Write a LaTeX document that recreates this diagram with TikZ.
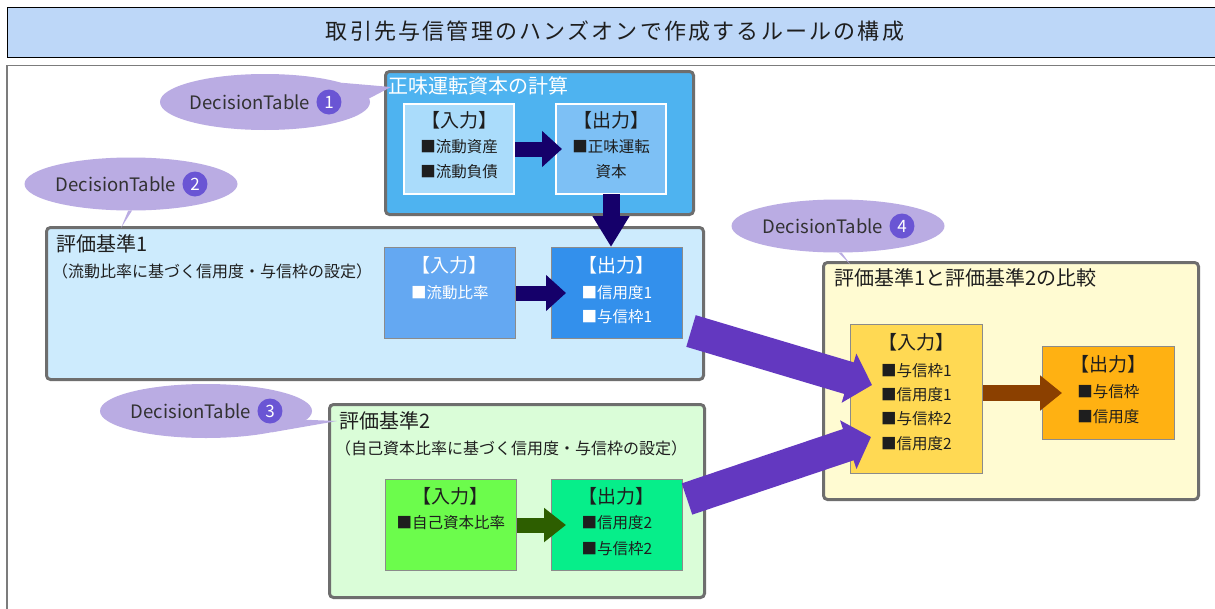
\documentclass[tikz,border=0pt]{standalone}
\usepackage{fontspec}
\setmainfont{Noto Sans CJK JP}
\usetikzlibrary{shapes.geometric,arrows.meta,calc}
\definecolor{titlebg}{RGB}{189,215,248}
\definecolor{frameg}{RGB}{110,110,110}
\definecolor{bonefill}{RGB}{78,179,240}
\definecolor{inonefill}{RGB}{170,220,251}
\definecolor{outonefill}{RGB}{125,192,245}
\definecolor{btwofill}{RGB}{205,235,253}
\definecolor{intwofill}{RGB}{100,168,242}
\definecolor{outtwofill}{RGB}{51,144,236}
\definecolor{bthreefill}{RGB}{218,253,216}
\definecolor{inthreefill}{RGB}{108,252,76}
\definecolor{outthreefill}{RGB}{6,238,138}
\definecolor{bfourfill}{RGB}{255,251,210}
\definecolor{infourfill}{RGB}{255,217,83}
\definecolor{outfourfill}{RGB}{255,177,18}
\definecolor{callfill}{RGB}{186,172,227}
\definecolor{numfill}{RGB}{106,85,212}
\definecolor{navyar}{RGB}{21,0,106}
\definecolor{purplear}{RGB}{99,56,192}
\definecolor{brownar}{RGB}{139,64,0}
\definecolor{greenar}{RGB}{45,94,0}
\definecolor{txt}{RGB}{30,30,30}
\definecolor{calltxt}{RGB}{50,50,50}
\begin{document}
\begin{tikzpicture}[x=1pt,y=-1pt,
  outerbox/.style={draw=frameg, line width=3pt, rounded corners=4pt, rectangle, inner sep=0pt, anchor=north west},
  wbox/.style={draw=white, line width=2pt, rectangle, inner sep=0pt, anchor=north west},
  gbox/.style={draw=frameg!80, line width=0.9pt, rectangle, inner sep=0pt, anchor=north west},
  hdtext/.style={font=\fontsize{19}{22}\selectfont, text=txt, inner sep=0pt},
  itemtext/.style={font=\fontsize{15.5}{18}\selectfont, text=txt, inner sep=0pt},
  boxtitle/.style={font=\fontsize{20}{24}\selectfont, text=txt, inner sep=0pt, anchor=west},
  subtitle/.style={font=\fontsize{16}{19}\selectfont, text=txt, inner sep=0pt, anchor=west},
  callout/.style={ellipse, fill=callfill, inner sep=0pt},
  calltext/.style={font=\fontsize{18.5}{21}\selectfont, text=calltxt, inner sep=0pt},
  numcirc/.style={circle, fill=numfill, text=white, inner sep=0pt, minimum size=25pt, font=\fontsize{17}{20}\selectfont},
  fatnavy/.style={draw=navyar, line width=15pt, -{Triangle[length=20pt,width=35pt]}},
  fatgreen/.style={draw=greenar, line width=15pt, -{Triangle[length=22pt,width=33pt]}},
  fatbrown/.style={draw=brownar, line width=16pt, -{Triangle[length=22pt,width=34pt]}},
  fatdown/.style={draw=navyar, line width=17pt, -{Triangle[length=31pt,width=35pt]}},
  fatpurple/.style={draw=purplear, line width=33pt, -{Triangle[length=24pt,width=50pt]}}
]
\useasboundingbox (0,0) rectangle (1215,608);
\clip (0,0) rectangle (1215,608);
\fill[white] (0,0) rectangle (1215,608);

% frame and title bar
\draw[frameg!90, line width=1.5pt] (7,612) -- (7,65.5) -- (1222,65.5);
\node[draw=black, line width=1.2pt, fill=titlebg, anchor=north west, minimum width=1216, minimum height=50, inner sep=0pt] (tb) at (7,7) {};
\node[font=\fontsize{22}{26}\selectfont\addfontfeature{LetterSpace=10}, text=txt, inner sep=0pt] (tt) at (615,31) {取引先与信管理のハンズオンで作成するルールの構成};

% outer boxes
\node[outerbox, fill=bonefill, minimum width=308, minimum height=143] (b1) at (384,70) {};
\node[outerbox, fill=btwofill, minimum width=657, minimum height=152] (b2) at (45,226) {};
\node[outerbox, fill=bthreefill, minimum width=375, minimum height=193] (b3) at (328,403) {};
\node[outerbox, fill=bfourfill, minimum width=375, minimum height=237] (b4) at (822,261) {};

% callouts
\node[callout, minimum width=210, minimum height=56] (c1) at (265,102) {};
\coordinate (tip1) at (391,87);
\fill[callfill] (c1.14) -- (tip1) -- (c1.2) -- cycle;
\node[callout, minimum width=213, minimum height=53] (c2) at (131,184) {};
\coordinate (tip2) at (121,228);
\fill[callfill] (c2.-96) -- (tip2) -- (c2.-88) -- cycle;
\node[callout, minimum width=212, minimum height=54] (c3) at (206,411) {};
\coordinate (tip3) at (337,421);
\fill[callfill] (c3.-5) -- (tip3) -- (c3.-18) -- cycle;
\node[callout, minimum width=213, minimum height=53] (c4) at (838,226) {};
\coordinate (tip4) at (850,264);
\fill[callfill] (c4.-89) -- (tip4) -- (c4.-82) -- cycle;

\foreach \c/\n in {c1/1,c2/2,c3/3,c4/4}{
  \node[calltext] (\c t) at ($(\c.center)+(-15,0)$) {DecisionTable};
  \node[numcirc, anchor=west] (\c n) at ($(\c t.east)+(6,0)$) {\n};
}

% inner boxes
\node[wbox, fill=inonefill, minimum width=110, minimum height=90] (in1) at (403,103) {};
\node[wbox, fill=outonefill, minimum width=110, minimum height=90] (out1) at (555,103) {};
\node[gbox, fill=intwofill, minimum width=131, minimum height=91] (in2) at (384,247) {};
\node[gbox, fill=outtwofill, minimum width=131, minimum height=91] (out2) at (551,247) {};
\node[gbox, fill=inthreefill, minimum width=131, minimum height=91] (in3) at (385,479) {};
\node[gbox, fill=outthreefill, minimum width=131, minimum height=91] (out3) at (551,479) {};
\node[gbox, fill=infourfill, minimum width=132, minimum height=149] (in4) at (850,324) {};
\node[gbox, fill=outfourfill, minimum width=132, minimum height=93] (out4) at (1042,346) {};

% big purple arrows
\coordinate (pt1) at (691,331);
\coordinate (pt2) at (687,499);
\coordinate (ph1) at (872,385);
\coordinate (ph2) at (871,437);
\draw[fatpurple] (pt1) -- (ph1);
\draw[fatpurple] (pt2) -- (ph2);

% small arrows
\draw[fatnavy] (in1.east |- 0,149) -- ($(out1.west |- 0,149)+(7,0)$);
\draw[fatdown] ($(out1.south)+(0,-1)$) -- (out1.south |- out2.north);
\draw[fatnavy] (in2.east |- 0,293) -- ($(out2.west |- 0,293)+(15,0)$);
\draw[fatgreen] (in3.east |- 0,525) -- ($(out3.west |- 0,525)+(15,0)$);
\draw[fatbrown] (in4.east |- 0,393) -- ($(out4.west |- 0,393)+(20,0)$);

% titles
\node[boxtitle, text=white] (b1t) at (388,86) {正味運転資本の計算};
\node[boxtitle] (b2t) at (56,244) {評価基準1};
\node[subtitle] (b2s) at (52,271) {（流動比率に基づく信用度・与信枠の設定）};
\node[boxtitle] (b3t) at (339,421) {評価基準2};
\node[subtitle] (b3s) at (335,448) {（自己資本比率に基づく信用度・与信枠の設定）};
\node[boxtitle] (b4t) at (834,278) {評価基準1と評価基準2の比較};

% box 1 texts
\node[hdtext] at ($(in1.north)+(0,17)$) {【入力】};
\node[itemtext] at ($(in1.north)+(0,44)$) {■流動資産};
\node[itemtext] at ($(in1.north)+(0,69)$) {■流動負債};
\node[hdtext] at ($(out1.north)+(0,17)$) {【出力】};
\node[itemtext] at ($(out1.north)+(0,44)$) {■正味運転};
\node[itemtext] at ($(out1.north)+(0,69)$) {資本};

% box 2 texts
\node[hdtext, text=white] at ($(in2.north)+(0,18)$) {【入力】};
\node[itemtext, text=white] at ($(in2.north)+(0,46)$) {■流動比率};
\node[hdtext, text=white] at ($(out2.north)+(0,18)$) {【出力】};
\node[itemtext, text=white] at ($(out2.north)+(0,46)$) {■信用度1};
\node[itemtext, text=white] at ($(out2.north)+(0,70)$) {■与信枠1};

% box 3 texts
\node[hdtext] at ($(in3.north)+(0,17)$) {【入力】};
\node[itemtext] at ($(in3.north)+(0,44)$) {■自己資本比率};
\node[hdtext] at ($(out3.north)+(0,17)$) {【出力】};
\node[itemtext] at ($(out3.north)+(0,44)$) {■信用度2};
\node[itemtext] at ($(out3.north)+(0,70)$) {■与信枠2};

% box 4 texts
\node[hdtext] at ($(in4.north)+(0,18)$) {【入力】};
\node[itemtext] at ($(in4.north)+(0,47)$) {■与信枠1};
\node[itemtext] at ($(in4.north)+(0,71)$) {■信用度1};
\node[itemtext] at ($(in4.north)+(0,95)$) {■与信枠2};
\node[itemtext] at ($(in4.north)+(0,120)$) {■信用度2};
\node[hdtext] at ($(out4.north)+(0,18)$) {【出力】};
\node[itemtext] at ($(out4.north)+(0,46)$) {■与信枠};
\node[itemtext] at ($(out4.north)+(0,71)$) {■信用度};
\end{tikzpicture}
\end{document}
